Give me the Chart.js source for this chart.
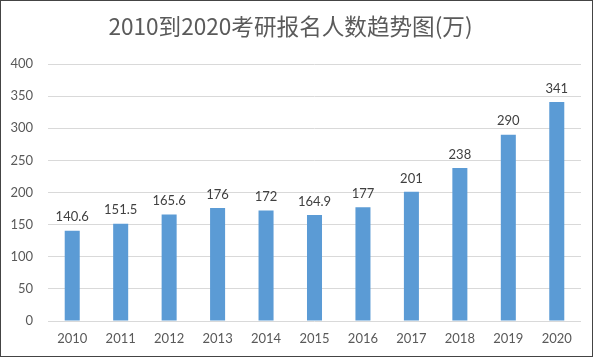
<!DOCTYPE html>
<html>
<head>
<meta charset="utf-8">
<script src="https://cdn.jsdelivr.net/npm/chart.js@4"></script>
<style>
  html, body { margin: 0; padding: 0; background: #fff; }
  #wrap { position: relative; width: 600px; height: 359px; }
  #frame { position: absolute; left: 0; top: 0; width: 591px; height: 355px; border: 1px solid #444; box-sizing: content-box; pointer-events: none; }
</style>
</head>
<body>
<div id="wrap">
  <canvas id="barChart" width="600" height="359"></canvas>
  <div id="frame"></div>
</div>
<script>
const years = ['2010', '2011', '2012', '2013', '2014', '2015', '2016', '2017', '2018', '2019', '2020']
const applicants = [140.6, 151.5, 165.6, 176, 172, 164.9, 177, 201, 238, 290, 341]
const yTicks = [0, 50, 100, 150, 200, 250, 300, 350, 400]

const numFont = 'Lato, "Noto Sans", sans-serif'

// value labels over each bar
const barLabels = {
  id: 'barLabels',
  afterDatasetsDraw(chart) {
    const ctx = chart.ctx
    const meta = chart.getDatasetMeta(0)
    ctx.save()
    ctx.font = '13px ' + numFont
    ctx.fillStyle = '#404040'
    ctx.textAlign = 'center'
    ctx.textBaseline = 'bottom'
    meta.data.forEach((bar, i) => {
      ctx.fillText(String(applicants[i]), bar.x, bar.y - 7)
    })
    ctx.restore()
  }
}

const ctx = document.getElementById('barChart').getContext('2d')
new Chart(ctx, {
  type: 'bar',
  data: {
    labels: years,
    datasets: [{
      data: applicants,
      backgroundColor: '#5b9bd5',
      barPercentage: 0.31,
      categoryPercentage: 1
    }]
  },
  options: {
    responsive: false,
    animation: false,
    layout: { padding: { left: 0, right: 19, top: 0, bottom: 0 } },
    plugins: {
      legend: { display: false },
      tooltip: { enabled: false },
      title: {
        display: true,
        text: '2010到2020考研报名人数趋势图(万)',
        color: '#5a5a5a',
        font: { family: '"Noto Sans CJK SC", sans-serif', size: 22.6, weight: 'normal' },
        padding: { top: 13, bottom: 23.9 }
      }
    },
    scales: {
      x: {
        grid: { display: false, drawTicks: false },
        border: { display: false },
        ticks: { color: '#595959', font: { family: numFont, size: 13 }, padding: 10, maxRotation: 0 },
        afterFit: s => { s.height = 38 }
      },
      y: {
        min: 0,
        max: 400,
        afterBuildTicks: s => { s.ticks = yTicks.map(v => ({ value: v })) },
        grid: { color: '#d9d9d9', drawTicks: false },
        border: { display: false },
        ticks: { color: '#595959', font: { family: numFont, size: 13 }, padding: 15 },
        afterFit: s => { s.width = 48 }
      }
    }
  },
  plugins: [barLabels]
})
</script>
</body>
</html>
